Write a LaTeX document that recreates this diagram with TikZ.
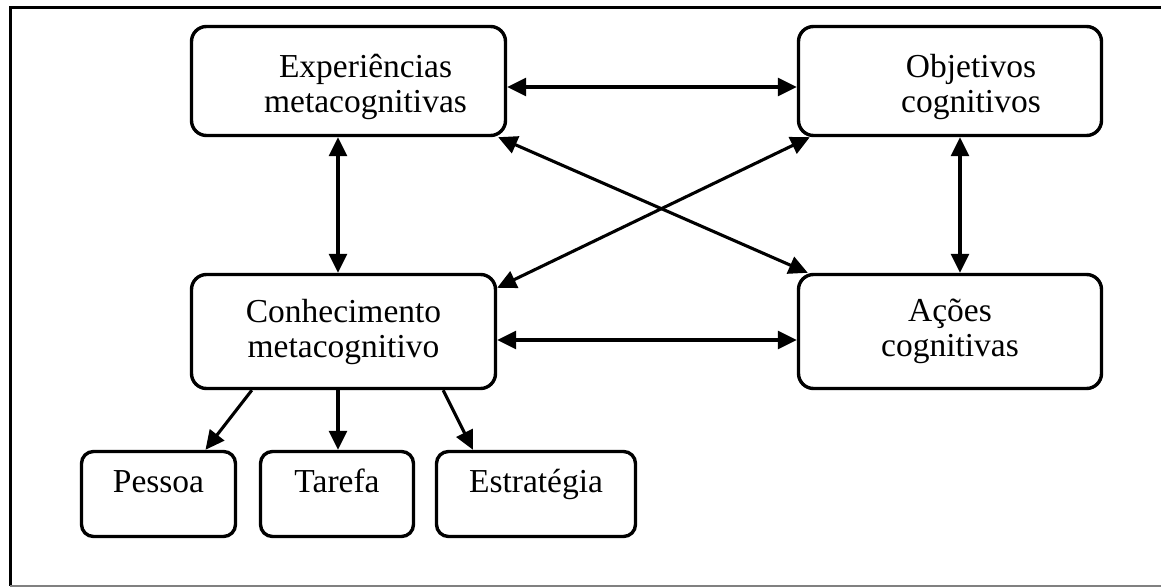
\documentclass[tikz,border=0pt]{standalone}
\usepackage{fontspec}
\setmainfont{Liberation Serif}
\usepackage{tikz}
\usetikzlibrary{arrows.meta, positioning}

\begin{document}
\begin{tikzpicture}[x=1pt, y=-1pt,
    box/.style={draw, line width=3.4pt, rounded corners=15pt, fill=white, inner sep=0pt},
    lbl/.style={align=center, inner sep=0pt, font=\fontsize{33.5pt}{35pt}\selectfont},
    onel/.style={lbl, text height=0.69em, text depth=0.22em},
    link/.style={line width=3.1pt, -{Triangle[length=19pt, width=18pt]}},
    both/.style={link, {Triangle[length=19pt, width=18pt]}-{Triangle[length=19pt, width=18pt]}}]
\useasboundingbox (0,0) rectangle (1161,588);
% frame, cut off on the right
\draw[line width=3pt] (1161,8) -- (10,8) -- (10,586);
\draw[gray, line width=2pt] (10,586) -- (1161,586);
% boxes
\node[box, minimum width=314pt, minimum height=109pt] (exp) at (348.5,81) {};
\node[box, minimum width=303pt, minimum height=109pt] (obj) at (950,81) {};
\node[box, minimum width=304pt, minimum height=114pt] (con) at (343.5,331.5) {};
\node[box, minimum width=303pt, minimum height=114pt] (acoes) at (950,331.5) {};
\node[box, rounded corners=12pt, minimum width=154pt, minimum height=85pt] (pessoa) at (158.5,494) {};
\node[box, rounded corners=12pt, minimum width=153pt, minimum height=85pt] (tarefa) at (337,494) {};
\node[box, rounded corners=12pt, minimum width=199pt, minimum height=85pt] (estr) at (536,494) {};
% texts
\node[lbl] (exp-t) at ([shift={(17pt,-6pt)}]exp.center) {Experiências\\metacognitivas};
\node[lbl] (obj-t) at ([shift={(21pt,-6pt)}]obj.center) {Objetivos\\cognitivos};
\node[lbl] (con-t) at (con.center) {Conhecimento\\metacognitivo};
\node[lbl] (acoes-t) at (acoes.center) {Ações\\cognitivas};
\node[onel] (pessoa-t) at ([yshift=4pt]pessoa.center) {Pessoa};
\node[onel] (tarefa-t) at ([yshift=4pt]tarefa.center) {Tarefa};
\node[onel] (estr-t) at ([yshift=4pt]estr.center) {Estratégia};
% connections
\draw[both] ([yshift=-6pt]exp.east) -- ([yshift=-6pt]obj.west);
\draw[both] ([yshift=-8.5pt]con.east) -- ([yshift=-8.5pt]acoes.west);
\draw[both] ([xshift=-10.5pt]exp.south) -- ([xshift=-10.5pt]exp.south |- con.north);
\draw[both] ([xshift=10pt]obj.south) -- ([xshift=10pt]obj.south |- acoes.north);
\draw[both] ([xshift=-9pt]exp.south east) -- ([xshift=11pt]acoes.north west);
\draw[both] ([yshift=-15pt]con.north east) -- ([xshift=13pt]obj.south west);
\draw[link] ([xshift=62pt]con.south west) -- ([xshift=47pt]pessoa.north);
\draw[link] ([xshift=-5.5pt]con.south) -- ([xshift=-5.5pt]con.south |- tarefa.north);
\draw[link] ([xshift=-54pt]con.south east) -- ([xshift=-63pt]estr.north);
\end{tikzpicture}
\end{document}
